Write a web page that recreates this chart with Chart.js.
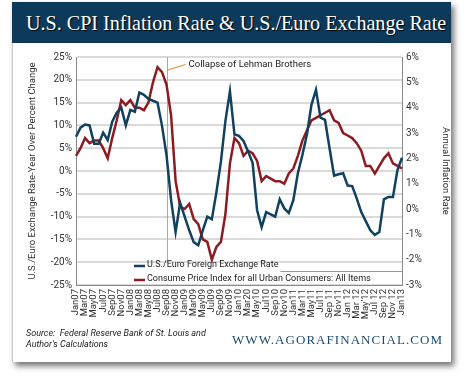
<!DOCTYPE html>
<html><head><meta charset="utf-8">
<script src="https://cdn.jsdelivr.net/npm/chart.js@4.4.1/dist/chart.umd.min.js"></script>
<style>
html,body{margin:0;padding:0;background:#fff;}
body{width:470px;height:382px;position:relative;overflow:hidden;}
#card{position:absolute;left:12px;top:2px;width:439px;height:360px;background:#fff;box-shadow:3px 4px 6px rgba(0,0,0,0.55);border-left:1px solid #ccc;box-sizing:border-box;}
#bar{position:absolute;left:12px;top:2px;width:439px;height:41px;background:#0d3a5a;}
#title{position:absolute;left:26px;top:2px;height:41px;line-height:43px;white-space:nowrap;color:#fff;font-family:"Liberation Serif",serif;font-size:20.1px;text-shadow:1px 1px 1px #000;}
#wrap{position:absolute;left:0;top:45px;width:470px;height:285px;}
#src{position:absolute;left:26px;top:328px;font-family:Roboto,sans-serif;font-style:italic;font-size:9px;line-height:11px;color:#222;}
#web{position:absolute;left:232px;top:332px;font-family:"Liberation Serif",serif;font-size:13px;letter-spacing:1.05px;color:#1d4a6e;white-space:nowrap;}
</style></head>
<body>
<div id="card"></div>
<div id="bar"></div>
<div id="title">U.S. CPI Inflation Rate &amp; U.S./Euro Exchange Rate</div>
<div id="wrap"><canvas id="c" width="470" height="285"></canvas></div>
<div id="src">Source:&nbsp; Federal Reserve Bank of St. Louis and<br>Author's Calculations</div>
<div id="web">WWW.AGORAFINANCIAL.COM</div>
<script>
const categories = ["Jan07","Feb07","Mar07","Apr07","May07","Jun07","Jul07","Aug07","Sep07","Oct07","Nov07","Dec07",
"Jan08","Feb08","Mar08","Apr08","May08","Jun08","Jul08","Aug08","Sep08","Oct08","Nov08","Dec08",
"Jan09","Feb09","Mar09","Apr09","May09","Jun09","Jul09","Aug09","Sep09","Oct09","Nov09","Dec09",
"Jan10","Feb10","Mar10","Apr10","May10","Jun10","Jul10","Aug10","Sep10","Oct10","Nov10","Dec10",
"Jan11","Feb11","Mar11","Apr11","May11","Jun11","Jul11","Aug11","Sep11","Oct11","Nov11","Dec11",
"Jan12","Feb12","Mar12","Apr12","May12","Jun12","Jul12","Aug12","Sep12","Oct12","Nov12","Dec12","Jan13"];

const tickLabels = ["Jan07","Mar07","May07","Jul07","Sep07","Nov07","Jan08","Mar08","May08","Jul08","Sep08","Nov08",
"Jan09","Mar09","May09","Jul09","Sep09","Nov09","Jan10","Mar20","May10","Jul10","Sep10","Nov10",
"Jan11","Mar11","May11","Jul11","Sep 11","Nov11","Jan 12","Mar 12","May'12","Jul 12","Sep 12","Nov 12","Jan13"];

// U.S./Euro exchange rate, year-over-year % change (left axis)
const fxRate = [7.5,9.5,10.2,10.0,6.0,6.0,8.4,6.8,10.8,12.8,13.9,10.0,
13.4,13.0,17.2,16.7,15.8,15.4,15.0,9.9,3.4,-6.4,-13.4,-7.0,
-10.0,-13.0,-15.6,-16.3,-13.0,-10.0,-10.6,-4.7,2.0,11.0,17.5,8.0,
7.7,6.6,4.3,1.8,-8.6,-12.3,-9.0,-9.5,-10.0,-6.2,-8.2,-9.2,
-6.4,-0.5,3.5,8.0,14.5,17.8,11.7,11.2,5.0,-1.0,-0.7,-0.5,
-3.2,-3.3,-6.0,-9.0,-11.0,-13.0,-14.0,-13.4,-6.2,-5.7,-5.7,0.2,2.9];

// CPI annual inflation rate % (right axis)
const cpi = [2.1,2.4,2.8,2.6,2.7,2.7,2.4,2.0,2.8,3.5,4.3,4.1,
4.3,4.0,4.0,3.9,4.2,5.0,5.6,5.4,4.9,3.7,1.1,0.1,
0.0,0.2,-0.4,-0.6,-1.2,-1.3,-2.0,-1.5,-1.3,-0.2,1.8,2.8,
2.6,2.1,2.3,2.2,1.9,1.1,1.3,1.2,1.1,1.1,1.0,1.4,
1.6,2.1,2.7,3.1,3.5,3.6,3.7,3.8,3.9,3.5,3.4,3.0,
2.9,2.8,2.6,2.3,1.7,1.7,1.4,1.7,2.0,2.2,1.8,1.7,1.6];

const seriesNames = ["U.S./Euro Foreign Exchange Rate","Consume Price Index for all Urban Consumers: All Items"];
const eventIndex = 20; // Sep08
const eventLabel = "Collapse of Lehman Brothers";

const FONT = "Roboto";
const BLUE = "#12415e", RED = "#8c1c22";

const overlay = {
  id:'overlay',
  beforeDatasetsDraw(chart){
    const {ctx, chartArea:a, scales:{x}} = chart;
    const lx = Math.round(x.getPixelForValue(eventIndex)) + 0.5;
    ctx.save();
    ctx.strokeStyle = '#a8a8a8'; ctx.lineWidth = 1;
    ctx.beginPath(); ctx.moveTo(lx, a.top); ctx.lineTo(lx, a.bottom); ctx.stroke();
    ctx.restore();
  },
  afterDatasetsDraw(chart){
    const {ctx, chartArea:a, scales:{x}} = chart;
    const lx = x.getPixelForValue(eventIndex);
    ctx.save();
    // annotation
    ctx.strokeStyle = '#f0902a'; ctx.lineWidth = 1.2;
    ctx.beginPath(); ctx.moveTo(lx+1, a.top+13); ctx.lineTo(lx+19, a.top+7.5); ctx.stroke();
    ctx.fillStyle = '#222'; ctx.font = '9.5px ' + FONT; ctx.textBaseline = 'middle'; ctx.textAlign = 'left';
    ctx.fillText(eventLabel, lx+22, a.top+8);
    // legend
    const lx0 = 134, ty1 = a.bottom - 20, ty2 = a.bottom - 6;
    ctx.fillStyle = '#fff';
    ctx.fillRect(lx0-2, a.bottom-22, a.right - lx0 + 1, 21);
    ctx.font = '9px ' + FONT;
    const colors = [BLUE, RED];
    [ty1, ty2].forEach((ty, i) => {
      ctx.strokeStyle = colors[i]; ctx.lineWidth = 2.5;
      ctx.beginPath(); ctx.moveTo(lx0, ty+1); ctx.lineTo(lx0+11, ty+1); ctx.stroke();
      ctx.fillStyle = '#222';
      ctx.fillText(seriesNames[i], lx0+13, ty);
    });
    const w1 = ctx.measureText(seriesNames[0]).width;
    ctx.strokeStyle = '#999'; ctx.lineWidth = 1;
    ctx.beginPath(); ctx.moveTo(lx0+13+w1+2, ty1+6.5); ctx.lineTo(a.right, ty1+6.5); ctx.stroke();
    ctx.restore();
  }
};

new Chart(document.getElementById('c'), {
  type:'line',
  data:{labels:categories, datasets:[
    {label:seriesNames[0], data:fxRate, yAxisID:'y', borderColor:BLUE, borderWidth:2.5, pointRadius:0, tension:0, fill:false},
    {label:seriesNames[1], data:cpi, yAxisID:'y1', borderColor:RED, borderWidth:2.5, pointRadius:0, tension:0, fill:false}
  ]},
  options:{
    responsive:false, animation:false, devicePixelRatio:1,
    layout:{padding:{top:12,left:0,right:0,bottom:0}},
    plugins:{legend:{display:false}, tooltip:{enabled:false}},
    scales:{
      x:{
        offset:false,
        grid:{display:false, drawTicks:false},
        border:{display:true, color:'#8a8a8a', width:1},
        ticks:{autoSkip:false, maxRotation:90, minRotation:90, padding:4, color:'#333',
               font:{family:FONT, size:9.5},
               callback:(v,i)=> i%2===0 ? tickLabels[i/2] : ''},
        afterFit:s=>{s.height=45;}
      },
      y:{
        position:'left', min:-25, max:25,
        ticks:{stepSize:5, padding:4, color:'#333', font:{family:FONT, size:10}, callback:v=>v+'%'},
        grid:{color:'#dadada', lineWidth:2, drawTicks:false},
        border:{display:true, color:'#8a8a8a', width:1},
        title:{display:true, text:'U.S./Euro Exchange Rate-Year Over Percent Change', color:'#333',
               font:{family:FONT, size:9.5}, padding:{top:27,bottom:0}},
        afterFit:s=>{s.width=76;}
      },
      y1:{
        position:'right', min:-3, max:6,
        ticks:{stepSize:1, padding:4, color:'#333', font:{family:FONT, size:10}, callback:v=>v+'%'},
        grid:{drawOnChartArea:false, drawTicks:false},
        border:{display:true, color:'#8a8a8a', width:1},
        title:{display:true, text:'Annual Inflation Rate', color:'#333',
               font:{family:FONT, size:9.5}, padding:{top:19,bottom:0}},
        afterFit:s=>{s.width=68;}
      }
    }
  },
  plugins:[overlay]
});
</script>
</body></html>
